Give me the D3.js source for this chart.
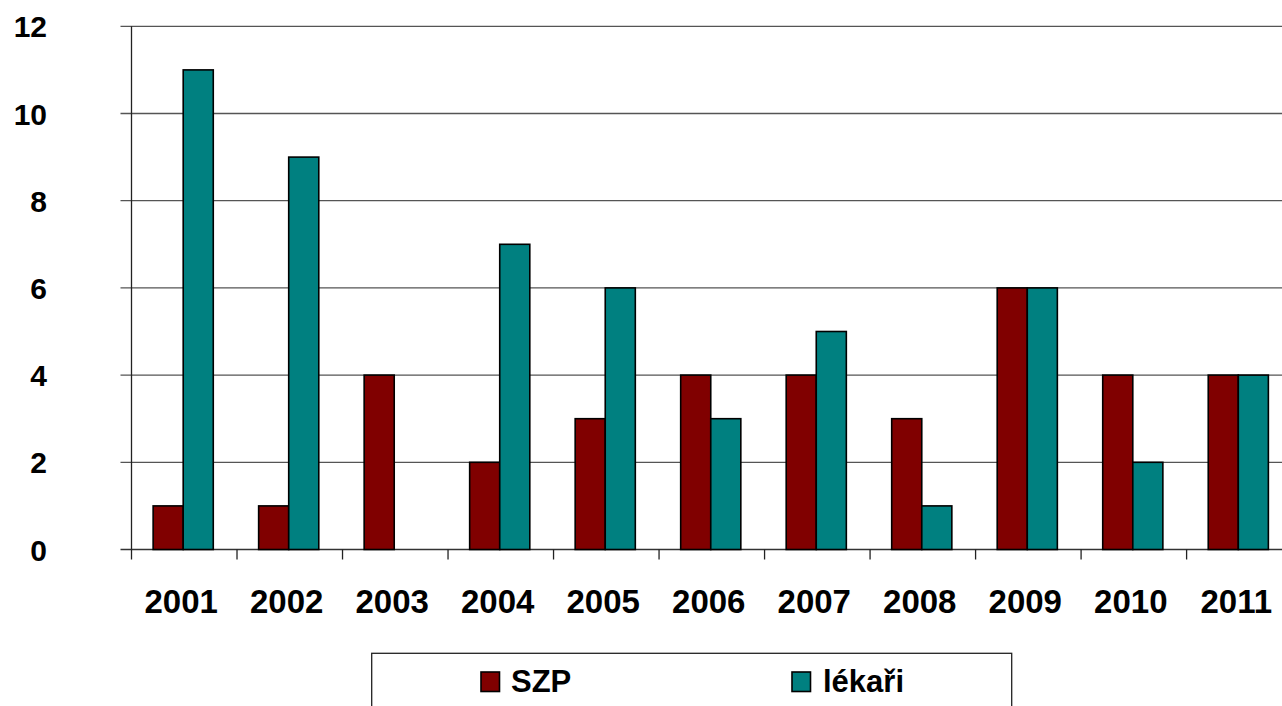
<!DOCTYPE html>
<html>
<head>
<meta charset="utf-8">
<script src="https://cdn.jsdelivr.net/npm/d3@7"></script>
<style>
  html, body { margin: 0; padding: 0; background: #fff; overflow: hidden; }
  svg { display: block; font-family: "Liberation Sans", Arial, sans-serif; font-weight: bold; }
</style>
</head>
<body>
<svg id="chart" width="1282" height="706"></svg>
<script>
const categories = ["2001","2002","2003","2004","2005","2006","2007","2008","2009","2010","2011"];
const seriesNames = ["SZP", "lékaři"];
const szpValues = [1, 1, 4, 2, 3, 4, 4, 3, 6, 4, 4];
const lekariValues = [11, 9, 0, 7, 6, 3, 5, 1, 6, 2, 4];
const yTicks = [0, 2, 4, 6, 8, 10, 12];
const colors = ["#800000", "#008080"];

(function () {
const svg = d3.select("#chart");
const pL = 131.5, pR = 1290, pT = 26.3, pB = 549.5;

const x = d3.scaleBand().domain(categories).range([pL, pR]).paddingInner(0.43).paddingOuter(0.205);
const step = x.step();
const y = d3.scaleLinear().domain([0, 12]).range([pB, pT]);
const xs = d3.scaleBand().domain(seriesNames).range([0, x.bandwidth()]);

// gridlines
svg.append("g").selectAll("line").data(yTicks).join("line")
  .attr("x1", pL - 11).attr("x2", pR)
  .attr("y1", d => y(d)).attr("y2", d => y(d))
  .attr("stroke", d => d === 0 ? "#333" : "#555").attr("stroke-width", 1.3);

// y axis line
svg.append("line").attr("x1", pL).attr("x2", pL).attr("y1", pT).attr("y2", pB)
  .attr("stroke", "#222").attr("stroke-width", 1.3);

// x ticks
const tickPos = d3.range(categories.length + 1).map(i => pL + i * step);
svg.append("g").selectAll("line").data(tickPos).join("line")
  .attr("x1", d => d).attr("x2", d => d)
  .attr("y1", pB).attr("y2", pB + 10)
  .attr("stroke", "#222").attr("stroke-width", 1.3);

// y labels
svg.append("g").selectAll("text").data(yTicks).join("text")
  .attr("x", 47).attr("y", d => y(d) + 11)
  .attr("text-anchor", "end").attr("font-size", 30).attr("fill", "#000")
  .text(d => d);

// x labels
svg.append("g").selectAll("text").data(categories).join("text")
  .attr("x", d => x(d) + x.bandwidth() / 2 - 2)
  .attr("y", 613).attr("text-anchor", "middle").attr("font-size", 33).attr("fill", "#000")
  .text(d => d);

// bars
const data = categories.map((c, i) => ({ c, vals: [szpValues[i], lekariValues[i]] }));
const groups = svg.append("g").selectAll("g").data(data).join("g")
  .attr("transform", d => `translate(${x(d.c)},0)`);
groups.selectAll("rect").data(d => d.vals.map((v, j) => ({ v, s: seriesNames[j], j })).filter(e => e.v > 0))
  .join("rect")
  .attr("x", e => xs(e.s)).attr("width", xs.bandwidth())
  .attr("y", e => y(e.v)).attr("height", e => y(0) - y(e.v))
  .attr("fill", e => colors[e.j]).attr("stroke", "#000").attr("stroke-width", 1.6);

// legend
const lg = svg.append("g");
lg.append("rect").attr("x", 371.7).attr("y", 653.3).attr("width", 640).attr("height", 80)
  .attr("fill", "#fff").attr("stroke", "#222").attr("stroke-width", 1.3);
const legendItems = [{ name: seriesNames[0], mx: 481, tx: 511 }, { name: seriesNames[1], mx: 792, tx: 823 }];
legendItems.forEach((it, i) => {
  lg.append("rect").attr("x", it.mx).attr("y", 672).attr("width", 18.5).attr("height", 19.5)
    .attr("fill", colors[i]).attr("stroke", "#000").attr("stroke-width", 1.6);
  lg.append("text").attr("x", it.tx).attr("y", 692).attr("font-size", 31).attr("fill", "#000").text(it.name);
});
})();
</script>
</body>
</html>
